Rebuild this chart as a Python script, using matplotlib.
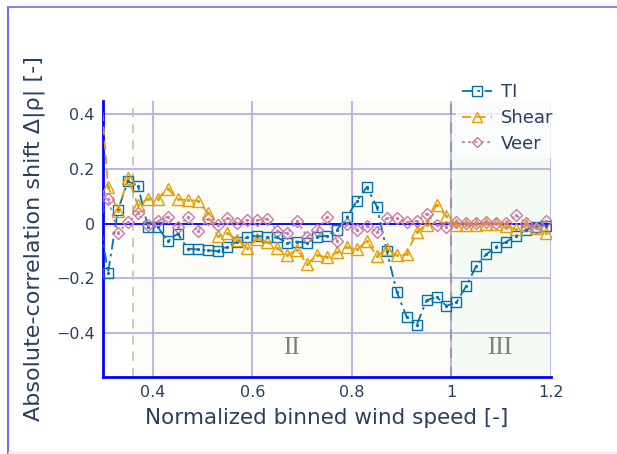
import matplotlib.pyplot as plt
from matplotlib.lines import Line2D
import numpy as np

# normalized wind speed bins (first bin lies just outside the plotted range)
wind_speed = [0.29, 0.31, 0.33, 0.35, 0.37, 0.39, 0.41, 0.43, 0.45, 0.47,
              0.49, 0.51, 0.53, 0.55, 0.57, 0.59, 0.61, 0.63, 0.65, 0.67,
              0.69, 0.71, 0.73, 0.75, 0.77, 0.79, 0.81, 0.83, 0.85, 0.87,
              0.89, 0.91, 0.93, 0.95, 0.97, 0.99, 1.01, 1.03, 1.05, 1.07,
              1.09, 1.11, 1.13, 1.15, 1.17, 1.19]

ti = [0.06, -0.18, 0.05, 0.155, 0.14, -0.01, -0.012, -0.064, -0.036, -0.091,
      -0.094, -0.097, -0.10, -0.084, -0.065, -0.05, -0.043, -0.05, -0.05, -0.07,
      -0.065, -0.07, -0.047, -0.044, -0.022, 0.025, 0.084, 0.134, 0.063, -0.099,
      -0.248, -0.341, -0.371, -0.28, -0.268, -0.30, -0.288, -0.227, -0.154, -0.112,
      -0.084, -0.066, -0.044, -0.022, -0.01, -0.007]

shear = [0.62, 0.136, 0.045, 0.169, 0.067, 0.092, 0.092, 0.129, 0.09, 0.086,
         0.085, 0.041, -0.046, -0.035, -0.06, -0.087, -0.056, -0.067, -0.09, -0.115,
         -0.095, -0.147, -0.115, -0.123, -0.105, -0.086, -0.094, -0.064, -0.117, -0.091,
         -0.116, -0.112, -0.03, -0.003, 0.07, 0.027, -0.003, -0.006, -0.005, 0.0,
         0.0, -0.008, -0.02, -0.004, -0.016, -0.033]

veer = [0.10, 0.09, -0.032, 0.006, 0.038, -0.006, 0.01, 0.026, -0.013, 0.024,
        -0.026, 0.016, -0.005, 0.022, 0.002, 0.015, 0.014, 0.018, -0.027, -0.035,
        0.009, -0.047, -0.022, 0.024, -0.062, -0.002, -0.021, -0.008, -0.03, 0.022,
        0.02, 0.007, 0.01, 0.037, -0.003, -0.01, 0.005, 0.002, 0.003, 0.005,
        0.003, 0.003, 0.031, 0.002, -0.015, 0.011]

series = [
    ("TI", ti, "#0072B2", "s", (0, (6, 2.5, 1.5, 2.5)), 7.5),
    ("Shear", shear, "#E69F00", "^", (0, (5, 3)), 8),
    ("Veer", veer, "#CC79A7", "D", (0, (1.5, 2)), 6.5),
]

fig = plt.figure(figsize=(6.17, 4.54), dpi=100)
ax = fig.add_axes([0.167, 0.170, 0.726, 0.608])

# operating regions
ax.axvspan(0.36, 1.0, color="#fcfbf6", zorder=0)
ax.axvspan(1.0, 1.2, color="#f3fbf4", zorder=0)
ax.grid(True, color="#b4b0e2", linewidth=1.3, zorder=1)
ax.axhline(0, color="#0000ff", linewidth=1.3, zorder=2)
ax.axvline(0.36, color="#c4c4c4", linestyle=(0, (5, 4)), linewidth=1.3, zorder=2)
ax.axvline(1.0, color="#9a98b0", linestyle=(0, (5, 4)), linewidth=1.5, zorder=2)

handles = []
for name, vals, color, marker, ls, ms in series:
    ax.plot(wind_speed, vals, color=color, linestyle=ls, linewidth=1.3,
            marker=marker, markersize=ms, markerfacecolor="none",
            markeredgewidth=1.0, zorder=3)
    ax.plot(wind_speed, vals, linestyle="none", marker="o", markersize=1.3,
            color=color, zorder=4)
    handles.append(Line2D([], [], color=color, linestyle=ls, linewidth=1.3,
                          marker=marker, markersize=ms - 1, markerfacecolor="none",
                          markeredgewidth=1.0))

ax.text(0.679, -0.455, "II", family="Liberation Serif", fontsize=18,
        color="#7f7f7f", ha="center", va="center")
ax.text(1.097, -0.455, "III", family="Liberation Serif", fontsize=18,
        color="#7f7f7f", ha="center", va="center")

ax.set_xlim(0.3, 1.2)
ax.set_ylim(-0.56, 0.45)
ax.set_xticks([0.4, 0.6, 0.8, 1.0, 1.2])
ax.set_xticklabels(["0.4", "0.6", "0.8", "1", "1.2"])
ax.set_yticks([-0.4, -0.2, 0, 0.2, 0.4])
ax.set_yticklabels(["\u22120.4", "\u22120.2", "0", "0.2", "0.4"])
ax.tick_params(length=0, labelsize=11.5, labelcolor="#2a3f5f", pad=6)

for side in ["top", "right"]:
    ax.spines[side].set_visible(False)
for side in ["left", "bottom"]:
    ax.spines[side].set_color("#0000ff")
    ax.spines[side].set_linewidth(2)

ax.set_xlabel("Normalized binned wind speed [-]", fontsize=15.5, color="#2a3f5f", labelpad=6)
ax.set_ylabel("Absolute-correlation shift \u0394|\u03c1| [-]", fontsize=16,
              color="#2a3f5f", labelpad=8)

leg = fig.legend(handles, ["TI", "Shear", "Veer"], loc="upper left",
                 bbox_to_anchor=(0.725, 0.848), frameon=True, fontsize=13,
                 handlelength=1.7, handletextpad=0.45, labelspacing=0.42,
                 borderpad=0.3, labelcolor="#2a3f5f")
leg.get_frame().set_facecolor("white")
leg.get_frame().set_alpha(0.75)
leg.get_frame().set_edgecolor("none")
leg.get_frame().set_boxstyle("square", pad=0.0)

# outer frame of the figure
fig.add_artist(Line2D([0.013, 0.013], [0.0, 0.985], transform=fig.transFigure,
                      color="#5a5aff", linewidth=1.3))
fig.add_artist(Line2D([0.013, 1.0], [0.985, 0.985], transform=fig.transFigure,
                      color="#7a7af0", linewidth=1.3))
fig.add_artist(Line2D([0.013, 1.0], [0.004, 0.004], transform=fig.transFigure,
                      color="#e4e4f6", linewidth=1.0))

fig.savefig("out.png", dpi=100)
